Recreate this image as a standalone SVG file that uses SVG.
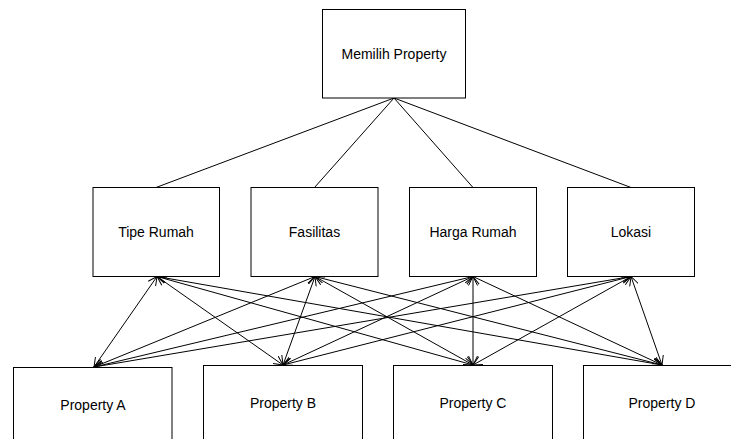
<svg xmlns="http://www.w3.org/2000/svg" width="731" height="439" viewBox="0 0 731 439">
<style>
.box{fill:#fff;stroke:#000;stroke-width:1}
.lbl{font-family:"Liberation Sans",Arial,sans-serif;font-size:14px;fill:#000;text-anchor:middle}
.ln{stroke:#000;stroke-width:1;fill:none}
.arr{marker-start:url(#ah);marker-end:url(#ah)}
</style>
<defs>
<marker id="ah" markerUnits="userSpaceOnUse" markerWidth="12" markerHeight="12" refX="9" refY="5" orient="auto-start-reverse">
<path d="M0,0.5 L9,5 L0,9.5" fill="none" stroke="#000" stroke-width="1"/>
</marker>
</defs>
<rect width="731" height="439" fill="#fff"/>
<g id="connectors">
<line class="ln" x1="394" y1="98" x2="156" y2="187.5"/>
<line class="ln" x1="394" y1="98" x2="314.5" y2="187.5"/>
<line class="ln" x1="394" y1="98" x2="473" y2="187.5"/>
<line class="ln" x1="394" y1="98" x2="631" y2="187.5"/>
<line class="ln arr" x1="157" y1="276.5" x2="94" y2="367"/>
<line class="ln arr" x1="157" y1="276.5" x2="283" y2="365"/>
<line class="ln arr" x1="157" y1="276.5" x2="473" y2="365"/>
<line class="ln arr" x1="157" y1="276.5" x2="662" y2="365"/>
<line class="ln arr" x1="315" y1="276.5" x2="94" y2="367"/>
<line class="ln arr" x1="315" y1="276.5" x2="283" y2="365"/>
<line class="ln arr" x1="315" y1="276.5" x2="473" y2="365"/>
<line class="ln arr" x1="315" y1="276.5" x2="662" y2="365"/>
<line class="ln arr" x1="473" y1="276.5" x2="94" y2="367"/>
<line class="ln arr" x1="473" y1="276.5" x2="283" y2="365"/>
<line class="ln arr" x1="473" y1="276.5" x2="473" y2="365"/>
<line class="ln arr" x1="473" y1="276.5" x2="662" y2="365"/>
<line class="ln arr" x1="631" y1="276.5" x2="94" y2="367"/>
<line class="ln arr" x1="631" y1="276.5" x2="283" y2="365"/>
<line class="ln arr" x1="631" y1="276.5" x2="473" y2="365"/>
<line class="ln arr" x1="631" y1="276.5" x2="662" y2="365"/>
</g>
<g id="memilih">
<rect class="box" x="322.5" y="9.5" width="143" height="88.5"/>
<text class="lbl" x="394" y="59">Memilih Property</text>
</g>
<g id="tipe">
<rect class="box" x="93" y="187.5" width="126.5" height="89"/>
<text class="lbl" x="156" y="237">Tipe Rumah</text>
</g>
<g id="fasilitas">
<rect class="box" x="251" y="187.5" width="127" height="89"/>
<text class="lbl" x="314.5" y="237">Fasilitas</text>
</g>
<g id="harga">
<rect class="box" x="409.5" y="187.5" width="127" height="89"/>
<text class="lbl" x="473" y="237">Harga Rumah</text>
</g>
<g id="lokasi">
<rect class="box" x="567.5" y="187.5" width="127" height="89"/>
<text class="lbl" x="631" y="237">Lokasi</text>
</g>
<g id="propA">
<rect class="box" x="13.5" y="367.5" width="158.5" height="90"/>
<text class="lbl" x="93" y="410">Property A</text>
</g>
<g id="propB">
<rect class="box" x="203.5" y="365.5" width="159" height="90"/>
<text class="lbl" x="283" y="408">Property B</text>
</g>
<g id="propC">
<rect class="box" x="393.5" y="365.5" width="159" height="90"/>
<text class="lbl" x="473" y="408">Property C</text>
</g>
<g id="propD">
<rect class="box" x="583.5" y="365.5" width="170" height="90"/>
<text class="lbl" x="662" y="408">Property D</text>
</g>
</svg>
